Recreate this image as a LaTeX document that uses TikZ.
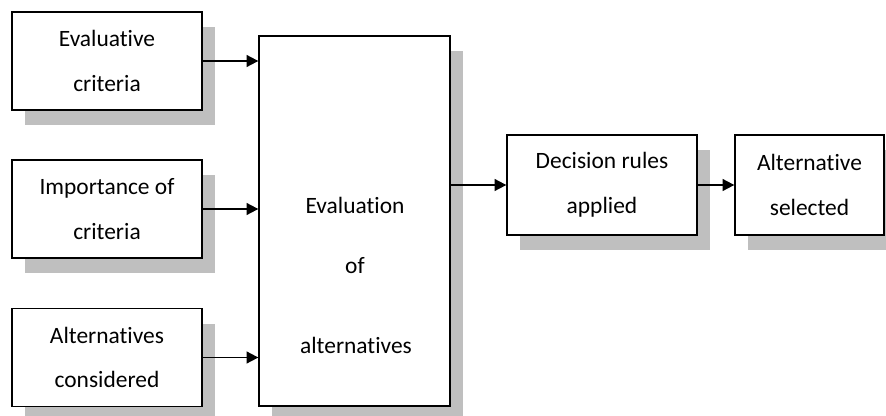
\documentclass[tikz,border=0pt]{standalone}
\usepackage{fontspec}
\setmainfont{Carlito}[RawFeature=-liga]
\usetikzlibrary{arrows.meta,shadows}
\tikzset{
  box/.style={draw=black, line width=1.1pt, fill=white, inner sep=0pt, align=center,
    minimum width=5.7cm, minimum height=2.94cm,
    font=\fontsize{20}{38}\selectfont,
    general shadow={fill=black!25, shadow xshift=0.39cm, shadow yshift=-0.45cm}},
  boxtext/.style={font=\fontsize{20}{24}\selectfont, inner sep=0pt, anchor=base},
  flow/.style={line width=1.6pt, -{Triangle[length=10pt,width=10pt]}}
}
\begin{document}
\begin{tikzpicture}[x=0.03cm,y=-0.03cm]
  \useasboundingbox (0,0) rectangle (886,416);
  \clip (0,0) rectangle (886,416);

  % inputs
  \node[box] (crit) at (107,61) {Evaluative\\criteria};
  \node[box] (imp) at (107,209) {Importance of\\criteria};
  \node[box] (alts) at (107,357.5) {Alternatives\\considered};

  % evaluation
  \node[box, minimum width=5.73cm, minimum height=11.1cm] (eval) at (354.5,221) {};
  \node[boxtext] (evalA) at (355,213) {Evaluation};
  \node[boxtext] (evalB) at (355,273) {of};
  \node[boxtext] (evalC) at (356,353) {alternatives};

  % outcome
  \node[box, minimum height=3cm] (rules) at (602,185) {Decision rules\\applied};
  \node[box, minimum width=4.47cm, minimum height=3cm] (sel) at (809.5,185) {Alternative\\selected};

  \foreach \src in {crit,imp,alts}
  \draw[flow] (\src.east) -- (\src.east -| eval.west);
  \draw[flow] (eval.east |- rules.west) -- (rules.west);
  \draw[flow] (rules.east) -- (sel.west);
\end{tikzpicture}
\end{document}
